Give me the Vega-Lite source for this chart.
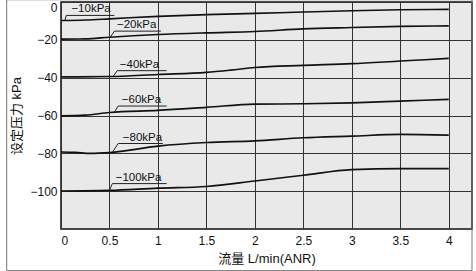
{
  "$schema": "https://vega.github.io/schema/vega-lite/v6.json",
  "width": 411,
  "height": 227,
  "autosize": {"type": "none"},
  "padding": {"left": 61, "top": 2, "right": 4, "bottom": 42},
  "background": "#ffffff",
  "config": {
    "view": {"fill": "#e8e9e8", "stroke": "#111111", "strokeWidth": 1.5},
    "font": "Liberation Sans, Noto Sans CJK SC"
  },
  "datasets": {
    "series": [
      {"s": "-10", "x": 0, "y": -9.8}, {"s": "-10", "x": 0.25, "y": -9.5}, {"s": "-10", "x": 0.5, "y": -8.9}, {"s": "-10", "x": 1, "y": -7.6}, {"s": "-10", "x": 1.5, "y": -6.7}, {"s": "-10", "x": 2, "y": -6.0}, {"s": "-10", "x": 2.5, "y": -5.3}, {"s": "-10", "x": 3, "y": -4.6}, {"s": "-10", "x": 3.5, "y": -4.1}, {"s": "-10", "x": 4, "y": -3.9},
      {"s": "-20", "x": 0, "y": -19.6}, {"s": "-20", "x": 0.25, "y": -19.5}, {"s": "-20", "x": 0.5, "y": -18.6}, {"s": "-20", "x": 1, "y": -17.2}, {"s": "-20", "x": 1.5, "y": -16.3}, {"s": "-20", "x": 2, "y": -15.6}, {"s": "-20", "x": 2.5, "y": -14.2}, {"s": "-20", "x": 3, "y": -13.5}, {"s": "-20", "x": 3.5, "y": -12.9}, {"s": "-20", "x": 4, "y": -12.6},
      {"s": "-40", "x": 0, "y": -39.6}, {"s": "-40", "x": 0.5, "y": -39.4}, {"s": "-40", "x": 1, "y": -38.3}, {"s": "-40", "x": 1.5, "y": -37.2}, {"s": "-40", "x": 1.75, "y": -36.0}, {"s": "-40", "x": 2, "y": -34.6}, {"s": "-40", "x": 2.5, "y": -33.5}, {"s": "-40", "x": 3, "y": -32.6}, {"s": "-40", "x": 3.5, "y": -31.2}, {"s": "-40", "x": 4, "y": -29.8},
      {"s": "-60", "x": 0, "y": -60.2}, {"s": "-60", "x": 0.25, "y": -59.8}, {"s": "-60", "x": 0.5, "y": -58.4}, {"s": "-60", "x": 1, "y": -57.3}, {"s": "-60", "x": 1.5, "y": -55.7}, {"s": "-60", "x": 2, "y": -54.0}, {"s": "-60", "x": 2.5, "y": -53.8}, {"s": "-60", "x": 3, "y": -53.3}, {"s": "-60", "x": 3.5, "y": -52.4}, {"s": "-60", "x": 4, "y": -51.5},
      {"s": "-80", "x": 0, "y": -79.3}, {"s": "-80", "x": 0.15, "y": -79.5}, {"s": "-80", "x": 0.3, "y": -80.0}, {"s": "-80", "x": 0.5, "y": -79.6}, {"s": "-80", "x": 1, "y": -76.2}, {"s": "-80", "x": 1.5, "y": -74.3}, {"s": "-80", "x": 2, "y": -73.4}, {"s": "-80", "x": 2.5, "y": -71.8}, {"s": "-80", "x": 3, "y": -70.9}, {"s": "-80", "x": 3.5, "y": -70.0}, {"s": "-80", "x": 4, "y": -70.4},
      {"s": "-100", "x": 0, "y": -99.9}, {"s": "-100", "x": 0.5, "y": -99.6}, {"s": "-100", "x": 1, "y": -98.4}, {"s": "-100", "x": 1.5, "y": -97.5}, {"s": "-100", "x": 2, "y": -94.6}, {"s": "-100", "x": 2.5, "y": -91.6}, {"s": "-100", "x": 3, "y": -88.6}, {"s": "-100", "x": 3.5, "y": -88.1}, {"s": "-100", "x": 4, "y": -88.1}
    ],
    "leaders": [
      {"s": "-10", "x": 0.04, "y": -9.7}, {"s": "-10", "x": 0.055, "y": -7.1}, {"s": "-10", "x": 0.55, "y": -7.1},
      {"s": "-20", "x": 0.51, "y": -18.5}, {"s": "-20", "x": 0.55, "y": -15.4}, {"s": "-20", "x": 1.03, "y": -15.4},
      {"s": "-40", "x": 0.54, "y": -39.2}, {"s": "-40", "x": 0.58, "y": -36.3}, {"s": "-40", "x": 1.09, "y": -36.3},
      {"s": "-60", "x": 0.55, "y": -58.3}, {"s": "-60", "x": 0.59, "y": -55.0}, {"s": "-60", "x": 1.09, "y": -55.0},
      {"s": "-80", "x": 0.53, "y": -79.4}, {"s": "-80", "x": 0.59, "y": -74.8}, {"s": "-80", "x": 1.05, "y": -74.8},
      {"s": "-100", "x": 0.5, "y": -99.6}, {"s": "-100", "x": 0.53, "y": -96.0}, {"s": "-100", "x": 1.09, "y": -96.0}
    ],
    "labels": [
      {"t": "−10kPa", "x": 0.31, "y": -5.3},
      {"t": "−20kPa", "x": 0.78, "y": -14.0},
      {"t": "−40kPa", "x": 0.81, "y": -34.7},
      {"t": "−60kPa", "x": 0.83, "y": -53.4},
      {"t": "−80kPa", "x": 0.84, "y": -73.4},
      {"t": "−100kPa", "x": 0.8, "y": -94.8}
    ],
    "frame": [
      {"x": -0.56, "x2": 4.24, "y": 1.2, "y2": -142}
    ]
  },
  "layer": [
    {
      "data": {"name": "series"},
      "mark": {"type": "line", "color": "#111111", "strokeWidth": 1.6, "interpolate": "monotone"},
      "encoding": {
        "x": {
          "field": "x", "type": "quantitative",
          "scale": {"domain": [0, 4.24], "nice": false, "zero": false},
          "axis": {
            "values": [0, 0.5, 1, 1.5, 2, 2.5, 3, 3.5, 4],
            "format": "~g",
            "grid": true, "gridColor": "#333333", "gridWidth": 1, "gridOpacity": 1,
            "ticks": false, "domain": false,
            "labelPadding": 6, "labelFontSize": 12, "labelColor": "#111111",
            "title": "流量 L/min(ANR)", "titleFontSize": 13, "titleFontWeight": "normal",
            "titleColor": "#111111", "titlePadding": 6
          }
        },
        "y": {
          "field": "y", "type": "quantitative",
          "scale": {"domain": [-120, 0], "nice": false, "zero": false},
          "axis": {
            "values": [0, -20, -40, -60, -80, -100],
            "grid": true, "gridColor": "#333333", "gridWidth": 1, "gridOpacity": 1,
            "ticks": false, "domain": false, "labelFlush": true,
            "labelPadding": 4, "labelFontSize": 12, "labelColor": "#111111",
            "title": "设定压力 kPa", "titleFontSize": 13, "titleFontWeight": "normal",
            "titleColor": "#111111", "titlePadding": 6
          }
        },
        "detail": {"field": "s"}
      }
    },
    {
      "data": {"name": "leaders"},
      "mark": {"type": "line", "color": "#222222", "strokeWidth": 1},
      "encoding": {
        "x": {"field": "x", "type": "quantitative"},
        "y": {"field": "y", "type": "quantitative"},
        "detail": {"field": "s"}
      }
    },
    {
      "data": {"name": "labels"},
      "mark": {"type": "text", "fontSize": 11.5, "color": "#111111", "align": "center", "baseline": "alphabetic"},
      "encoding": {
        "x": {"field": "x", "type": "quantitative"},
        "y": {"field": "y", "type": "quantitative"},
        "text": {"field": "t"}
      }
    },
    {
      "data": {"name": "frame"},
      "mark": {"type": "rect", "filled": false, "stroke": "#777777", "strokeWidth": 1, "clip": false},
      "encoding": {
        "x": {"field": "x", "type": "quantitative"},
        "x2": {"field": "x2"},
        "y": {"field": "y", "type": "quantitative"},
        "y2": {"field": "y2"}
      }
    }
  ]
}
